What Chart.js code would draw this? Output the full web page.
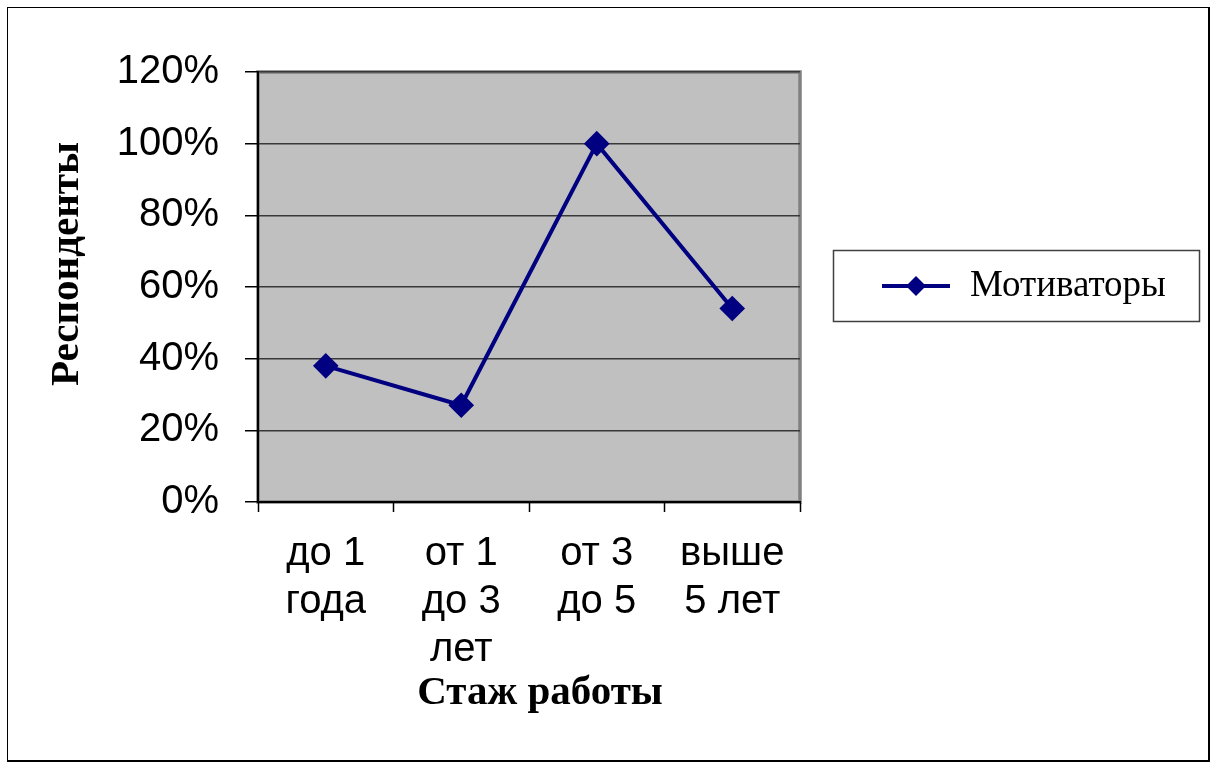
<!DOCTYPE html>
<html>
<head>
<meta charset="utf-8">
<script src="https://cdn.jsdelivr.net/npm/chart.js@4"></script>
<style>
  body { margin: 0; background: #fff; }
  #frame { position: absolute; left: 7px; top: 7px; width: 1200px; height: 752px; border: 1px solid #000; border-right-width: 2px; border-bottom-width: 2px; }
  #myChart { position: absolute; left: 0; top: 0; }
</style>
</head>
<body>
<div id="frame"></div>
<canvas id="myChart" width="1216" height="772"></canvas>
<script>
const categories = [["до 1", "года"], ["от 1", "до 3", "лет"], ["от 3", "до 5"], ["выше", "5 лет"]];
const seriesName = "Мотиваторы";
const seriesValues = [38, 27, 100, 54];
const yTicks = [0, 20, 40, 60, 80, 100, 120];
const yTitle = "Респонденты";
const xTitle = "Стаж работы";

const ctx = document.getElementById("myChart");

// gray plot area with its shadowed frame
const plotBackground = {
  id: "plotBackground",
  beforeDraw(chart) {
    const { ctx, chartArea: a } = chart;
    ctx.save();
    ctx.fillStyle = "#c0c0c0";
    ctx.fillRect(a.left, a.top, a.right - a.left, a.bottom - a.top);
    ctx.strokeStyle = "#808080";
    ctx.lineWidth = 3.5;
    ctx.strokeRect(a.left, a.top, a.right - a.left, a.bottom - a.top);
    ctx.restore();
  },
};

// axis titles, placed where the original has them (not exactly centred on the plot)
const axisTitles = {
  id: "axisTitles",
  afterDraw(chart) {
    const c = chart.ctx;
    c.save();
    c.fillStyle = "#000";
    c.font = "bold 41px 'Liberation Serif', serif";
    c.textAlign = "center";
    c.textBaseline = "middle";
    c.fillText(xTitle, 540, 693);
    c.translate(67, 264);
    c.rotate(-Math.PI / 2);
    c.fillText(yTitle, 0, 0);
    c.restore();
  },
};

// boxed legend on the right
const boxLegend = {
  id: "boxLegend",
  afterDraw(chart) {
    const c = chart.ctx;
    const ds = chart.data.datasets[0];
    c.save();
    c.strokeStyle = "#404040";
    c.lineWidth = 1.5;
    c.strokeRect(833.5, 250.5, 366, 71);
    const y = 286;
    c.strokeStyle = ds.borderColor;
    c.lineWidth = 4;
    c.beginPath();
    c.moveTo(882, y);
    c.lineTo(950, y);
    c.stroke();
    c.fillStyle = ds.pointBackgroundColor;
    c.beginPath();
    c.moveTo(916, y - 10);
    c.lineTo(926, y);
    c.lineTo(916, y + 10);
    c.lineTo(906, y);
    c.closePath();
    c.fill();
    c.fillStyle = "#000";
    c.font = "37px 'Liberation Serif', serif";
    c.textBaseline = "middle";
    c.fillText(ds.label, 970, y);
    c.restore();
  },
};

new Chart(ctx, {
  type: "line",
  data: {
    labels: categories,
    datasets: [
      {
        label: seriesName,
        data: seriesValues,
        borderColor: "#000080",
        borderWidth: 4,
        pointStyle: "rectRot",
        pointRadius: 10,
        pointHoverRadius: 10,
        pointBackgroundColor: "#000080",
        pointBorderColor: "#000080",
        tension: 0,
      },
    ],
  },
  options: {
    responsive: false,
    animation: false,
    devicePixelRatio: 1,
    layout: {
      padding: { top: 72, right: 416, bottom: 0, left: 0 },
    },
    plugins: {
      legend: { display: false },
      tooltip: { enabled: false },
    },
    scales: {
      x: {
        offset: true,
        afterFit(scale) {
          scale.height = 270;
        },
        border: { display: true, color: "#000", width: 2 },
        grid: {
          offset: true,
          drawOnChartArea: false,
          drawTicks: true,
          tickLength: 10,
          tickColor: "#000",
          tickWidth: 1.5,
        },
        ticks: {
          color: "#000",
          padding: 18,
          maxRotation: 0,
          autoSkip: false,
          font: { family: "'Liberation Sans', Arial, sans-serif", size: 40, lineHeight: 1.2 },
        },
      },
      y: {
        min: 0,
        max: 120,
        afterFit(scale) {
          scale.width = 258;
        },
        afterBuildTicks(scale) {
          scale.ticks = yTicks.map((v) => ({ value: v }));
        },
        border: { display: true, color: "#000", width: 2 },
        grid: {
          color: "#383838",
          lineWidth: 1.5,
          tickLength: 13,
          tickColor: "#000",
        },
        ticks: {
          color: "#000",
          padding: 26,
          font: { family: "'Liberation Sans', Arial, sans-serif", size: 40 },
          callback: (v) => v + "%",
        },
      },
    },
  },
  plugins: [plotBackground, axisTitles, boxLegend],
});
</script>
</body>
</html>
